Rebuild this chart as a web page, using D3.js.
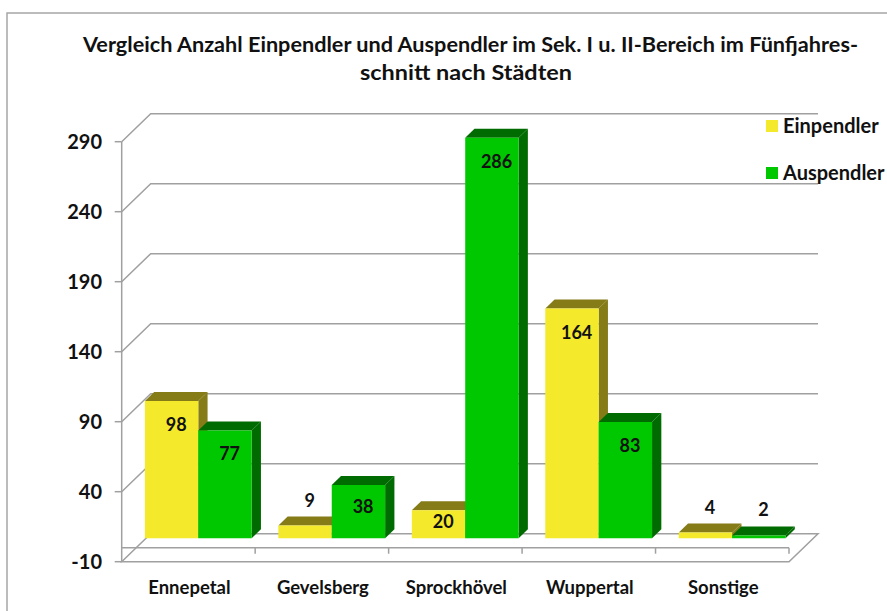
<!DOCTYPE html>
<html>
<head>
<meta charset="utf-8">
<script src="https://cdn.jsdelivr.net/npm/d3@7"></script>
<style>
  html, body { margin: 0; padding: 0; background: #fff; }
  svg { display: block; }
  text { font-family: Lato, "Open Sans", sans-serif; font-weight: bold; fill: #111; }
</style>
</head>
<body>
<svg id="chart" width="887" height="611"></svg>
<script>
// Data
const categories = ["Ennepetal", "Gevelsberg", "Sprockhövel", "Wuppertal", "Sonstige"];
const seriesNames = ["Einpendler", "Auspendler"];
const einpendler = [98, 9, 20, 164, 4];
const auspendler = [77, 38, 286, 83, 2];
const yTicks = [-10, 40, 90, 140, 190, 240, 290];
const titleLines = [
  "Vergleich Anzahl Einpendler und Auspendler im Sek. I u. II-Bereich im Fünfjahres-",
  "schnitt nach Städten"
];

const seriesValues = [einpendler, auspendler];
const frontColors = ["#F4E92B", "#00C800"];
const shadeColors = ["#857B17", "#006B00"];

const svg = d3.select("#chart");

// Outer frame
svg.append("rect")
  .attr("x", 7).attr("y", 13).attr("width", 900).attr("height", 620)
  .attr("fill", "none").attr("stroke", "#a6a6a6").attr("stroke-width", 1.5);

// Title (two centred lines, fitted to their widths)
const titleWidths = [775, 212];
const titleCenters = [470.5, 466];
svg.append("g").selectAll("text").data(titleLines).join("text")
  .attr("x", (d, i) => titleCenters[i]).attr("y", (d, i) => 52 + i * 28)
  .attr("text-anchor", "middle")
  .attr("font-size", 21)
  .attr("textLength", (d, i) => titleWidths[i])
  .attr("lengthAdjust", "spacingAndGlyphs")
  .text(d => d);

// Oblique 3D projection: depth z in [0,1] shifts right/up
const DX = 29, DY = 28;
const y = d3.scaleLinear().domain([-10, 290]).range([561.7, 141.7]);
const x0 = d3.scaleBand().domain(categories).range([121.7, 789])
  .paddingInner(0.2).paddingOuter(0.1);
const x1 = d3.scaleBand().domain(seriesNames).range([0, x0.bandwidth()]);
const P = (x, v, z) => [x + z * DX, y(v) - z * DY];

const gridColor = "#a0a0a0";
const walls = svg.append("g").attr("fill", "none").attr("stroke", gridColor).attr("stroke-width", 1.5);

// Floor slab at the axis minimum
const [xMin, xMax] = x0.range();
const floorPts = [P(xMin, -10, 0), P(xMax, -10, 0), P(xMax, -10, 1), P(xMin, -10, 1)];
walls.append("path").attr("d", "M" + floorPts.join("L") + "Z").attr("fill", "#fff");

// Side-wall diagonals and back-wall gridlines
yTicks.filter(t => t > -10).forEach(t => {
  const a = P(xMin, t, 0), b = P(xMin, t, 1), c = P(xMax, t, 1);
  walls.append("path").attr("d", "M" + [a, b, c].join("L"));
});

// Value axis line + ticks
walls.append("line")
  .attr("x1", xMin).attr("x2", xMin).attr("y1", y(290)).attr("y2", y(-10));
yTicks.forEach(t => {
  walls.append("line").attr("x1", xMin - 7).attr("x2", xMin).attr("y1", y(t)).attr("y2", y(t));
});
svg.append("g").selectAll("text").data(yTicks).join("text")
  .attr("x", 102).attr("y", d => y(d) + 7)
  .attr("text-anchor", "end")
  .attr("font-size", 20)
  .text(d => d);

// Category axis at zero on the front plane
walls.append("line").attr("x1", xMin).attr("x2", xMax).attr("y1", y(0)).attr("y2", y(0));
const boundaries = categories.map(c => x0(c) - x0.step() * x0.paddingInner() / 2).concat([xMax]);
boundaries.slice(1).forEach(bx => {
  walls.append("line").attr("x1", bx).attr("x2", bx).attr("y1", y(0)).attr("y2", y(0) + 6);
});
svg.append("g").selectAll("text").data(categories).join("text")
  .attr("x", d => x0(d) + x0.bandwidth() / 2 + 1)
  .attr("y", 594)
  .attr("text-anchor", "middle")
  .attr("font-size", 18.5)
  .text(d => d);

// 3D columns, drawn left to right so nearer faces overlap
const Z0 = 0.34, ZD = 0.32;
const bars = svg.append("g");
const labels = svg.append("g");
categories.forEach((cat, ci) => {
  seriesNames.forEach((s, si) => {
    const v = seriesValues[si][ci];
    const xl = x0(cat) + x1(s), xr = xl + x1.bandwidth();
    const fbl = P(xl, 0, Z0), fbr = P(xr, 0, Z0), ftl = P(xl, v, Z0), ftr = P(xr, v, Z0);
    const btl = P(xl, v, Z0 + ZD), btr = P(xr, v, Z0 + ZD), bbr = P(xr, 0, Z0 + ZD);
    const g = bars.append("g");
    g.append("path").attr("d", "M" + [fbr, ftr, btr, bbr].join("L") + "Z").attr("fill", shadeColors[si]);
    g.append("path").attr("d", "M" + [ftl, ftr, btr, btl].join("L") + "Z").attr("fill", shadeColors[si]);
    g.append("path").attr("d", "M" + [fbl, fbr, ftr, ftl].join("L") + "Z").attr("fill", frontColors[si]);

    // Label sits at the centre of the column's depth
    const h = fbl[1] - ftl[1];
    const cx = (ftl[0] + ftr[0]) / 2 + ZD * DX / 2;
    const baseY = h < 20 ? ftl[1] - 19 : ftl[1] + Math.min(23, h * 0.4) + 7;
    labels.append("text")
      .attr("x", cx).attr("y", baseY)
      .attr("text-anchor", "middle")
      .attr("font-size", 18)
      .text(v);
  });
});

// Legend
const legend = svg.append("g").attr("transform", "translate(766,120)");
seriesNames.forEach((s, i) => {
  legend.append("rect").attr("x", 0).attr("y", i * 47).attr("width", 12).attr("height", 12)
    .attr("fill", frontColors[i]);
  legend.append("text").attr("x", 17).attr("y", i * 47 + 13)
    .attr("font-size", 20).text(s);
});
</script>
</body>
</html>
